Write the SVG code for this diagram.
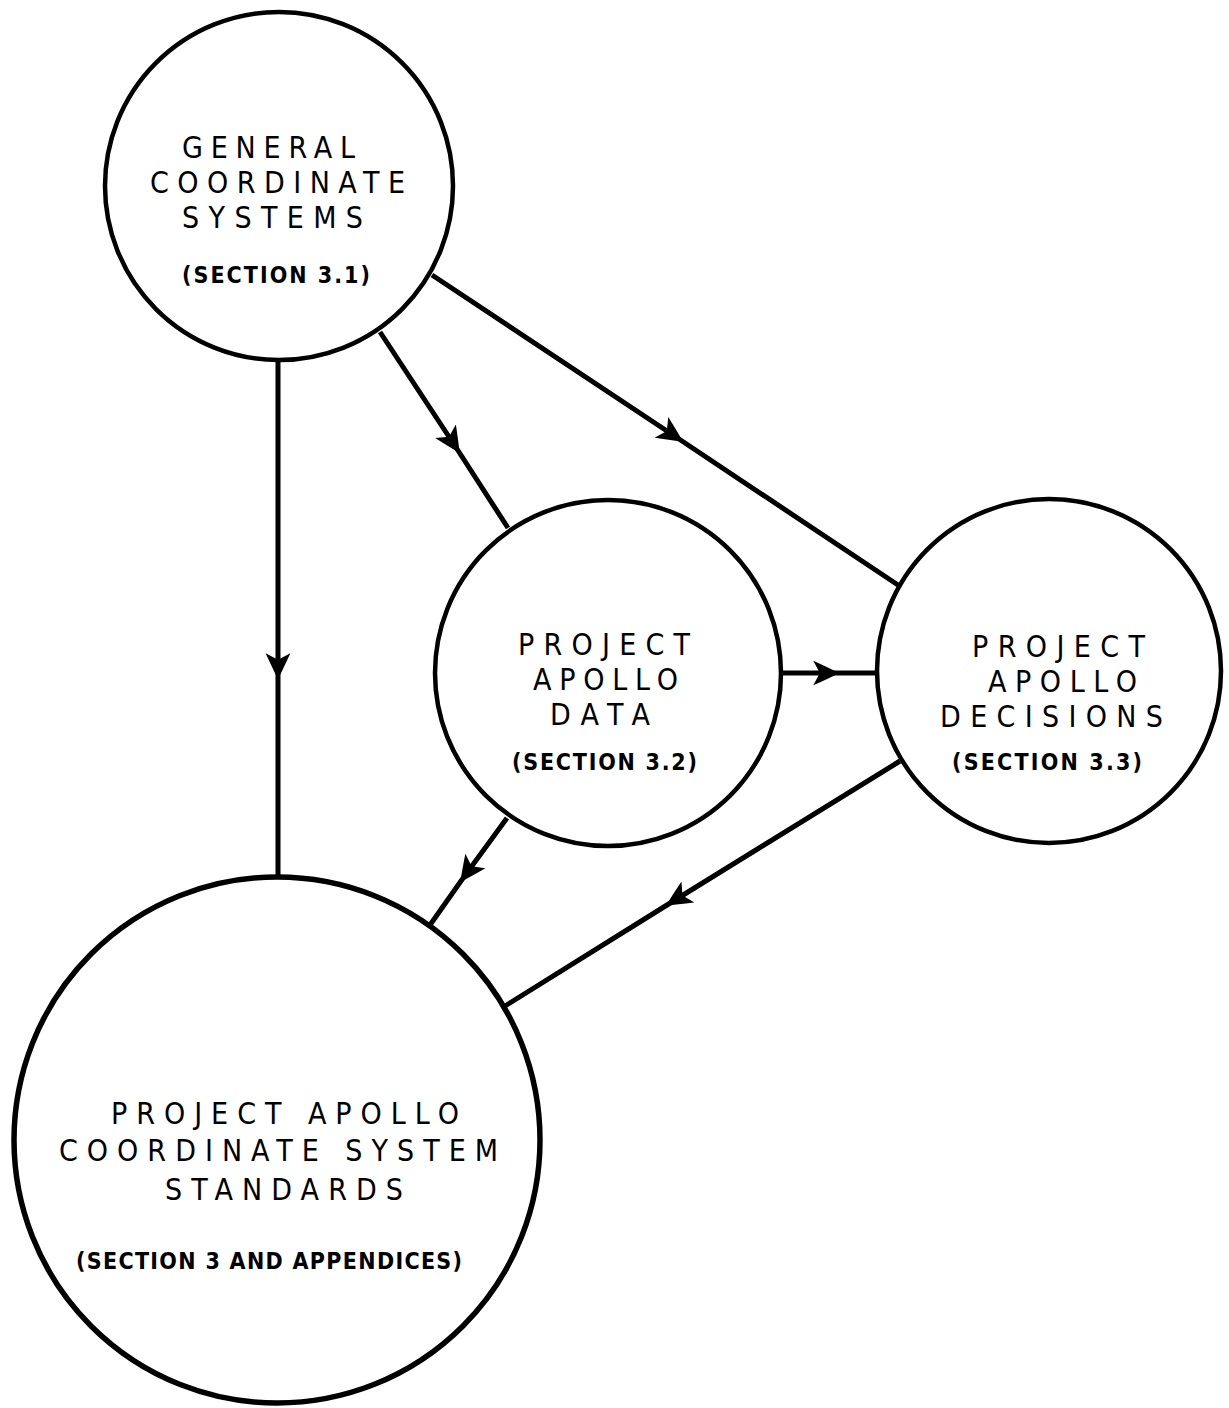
<svg xmlns="http://www.w3.org/2000/svg" width="1229" height="1408" viewBox="0 0 1229 1408">
<style>
.node circle{fill:#fff;stroke:#000;stroke-width:4.5}
.t{font-family:"Liberation Sans Narrow","DejaVu Sans Condensed","Liberation Sans",sans-serif;font-size:30px;fill:#000}
.s{font-family:"Liberation Sans Narrow","DejaVu Sans Condensed","Liberation Sans",sans-serif;font-size:23px;font-weight:bold;fill:#000}
.edge{fill:none;stroke:#000;stroke-width:5;marker-mid:url(#ah)}
</style>
<defs>
<marker id="ah" viewBox="0 0 20 20" markerUnits="userSpaceOnUse" markerWidth="26" markerHeight="26" refX="19" refY="10" orient="auto">
<path d="M20,10 Q12,6 0,0.5 L5,10 L0,19.5 Q12,14 20,10 Z" fill="#000"/>
</marker>
</defs>
<rect width="1229" height="1408" fill="#fff"/>
<g id="connectors">
<polyline class="edge" points="278,360 278,678 278,877"/>
<polyline class="edge" points="380,332 459,452 508,528"/>
<polyline class="edge" points="432,275 682,441 898,585"/>
<polyline class="edge" points="781,673 838,673 877,673"/>
<polyline class="edge" points="507,818 461,881 430,925"/>
<polyline class="edge" points="900,761 667,905 505,1006"/>
</g>
<g id="node-general" class="node">
<circle cx="279" cy="186" r="174"/>
<text class="t" x="182" y="158" textLength="173" lengthAdjust="spacing">GENERAL</text>
<text class="t" x="150" y="193" textLength="255" lengthAdjust="spacing">COORDINATE</text>
<text class="t" x="182" y="228" textLength="181" lengthAdjust="spacing">SYSTEMS</text>
<text class="s" x="182" y="283" textLength="188" lengthAdjust="spacing">(SECTION 3.1)</text>
</g>
<g id="node-data" class="node">
<circle cx="608" cy="673" r="173"/>
<text class="t" x="518" y="655" textLength="172" lengthAdjust="spacing">PROJECT</text>
<text class="t" x="533" y="690" textLength="145" lengthAdjust="spacing">APOLLO</text>
<text class="t" x="550" y="725" textLength="100" lengthAdjust="spacing">DATA</text>
<text class="s" x="512" y="770" textLength="185" lengthAdjust="spacing">(SECTION 3.2)</text>
</g>
<g id="node-decisions" class="node">
<circle cx="1049" cy="671" r="172"/>
<text class="t" x="972" y="657" textLength="173" lengthAdjust="spacing">PROJECT</text>
<text class="t" x="988" y="692" textLength="149" lengthAdjust="spacing">APOLLO</text>
<text class="t" x="940" y="727" textLength="223" lengthAdjust="spacing">DECISIONS</text>
<text class="s" x="952" y="770" textLength="190" lengthAdjust="spacing">(SECTION 3.3)</text>
</g>
<g id="node-standards" class="node">
<circle cx="277" cy="1140" r="263" style="stroke-width:5.5"/>
<text class="t" x="111" y="1124" textLength="348" lengthAdjust="spacing">PROJECT APOLLO</text>
<text class="t" x="59" y="1161" textLength="439" lengthAdjust="spacing">COORDINATE SYSTEM</text>
<text class="t" x="165" y="1200" textLength="238" lengthAdjust="spacing">STANDARDS</text>
<text class="s" x="76" y="1269" textLength="386" lengthAdjust="spacing">(SECTION 3 AND APPENDICES)</text>
</g>
</svg>
